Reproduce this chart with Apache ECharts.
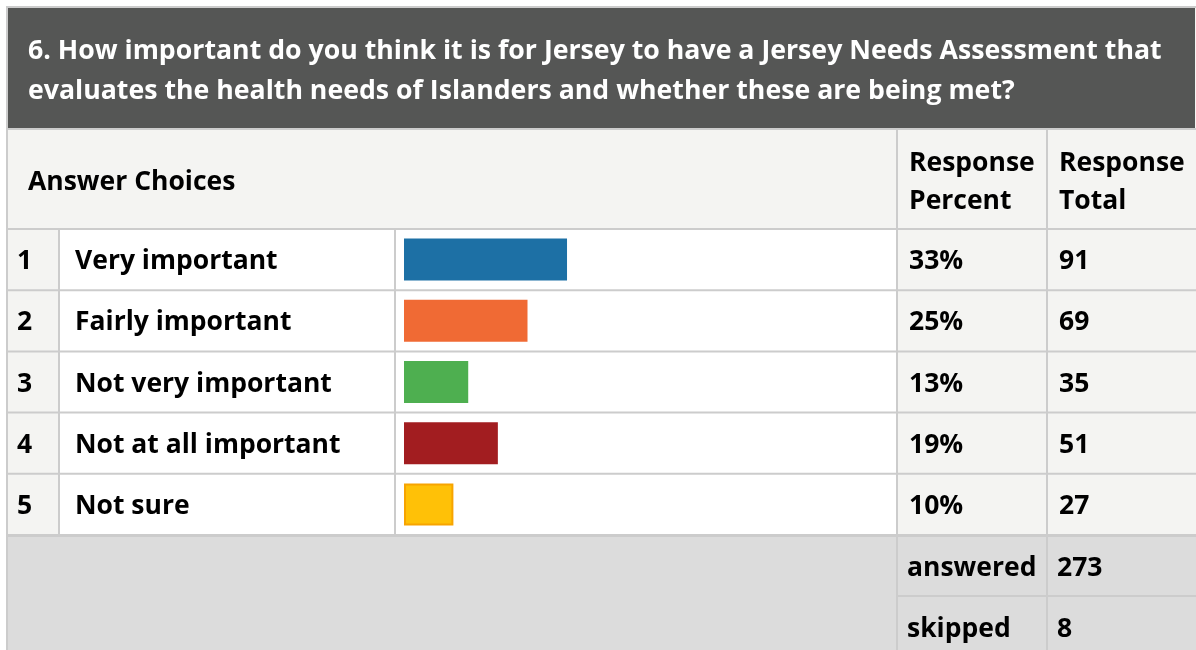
<!DOCTYPE html>
<html><head><meta charset="utf-8">
<script src="https://cdn.jsdelivr.net/npm/echarts@6/dist/echarts.min.js"></script>
<style>html,body{margin:0;padding:0;background:#fff}#c{width:1196px;height:650px}</style>
</head><body><div id="c"></div>
<script>
// ---- data ----
const titleLines = [
  "6. How important do you think it is for Jersey to have a Jersey Needs Assessment that",
  "evaluates the health needs of Islanders and whether these are being met?"
];
const headerLabels = ["Answer Choices", "Response\nPercent", "Response\nTotal"];
const rowNumbers = ["1", "2", "3", "4", "5"];
const categories = ["Very important", "Fairly important", "Not very important", "Not at all important", "Not sure"];
const percents = [33, 25, 13, 19, 10];
const totals = [91, 69, 35, 51, 27];
const footerLabels = ["answered", "skipped"];
const footerValues = [273, 8];
const palette = ["#1d70a5", "#f06a34", "#4eaf50", "#a21d20", "#ffc107"];

// ---- layout ----
const FONT = '"Open Sans", "Noto Sans", sans-serif';
const L = 7, R = 1196;
const xNum = 59, xLabel = 395, xBar = 897, xPct = 1047;
const titleTop = 8, titleBot = 128, headBot = 229;
const rowH = 61.2, nRows = categories.length;
const footTop = headBot + rowH * nRows; // 535
const footMid = footTop + 61;
const H = 650;
const LINE = '#cccccc';

const g = [];
function rect(x, y, w, h, fill, z) { g.push({type: 'rect', z: z || 0, shape: {x, y, width: w, height: h}, style: {fill}, silent: true}); }
function text(x, y, t, size, fill, z) {
  g.push({type: 'text', z: z || 5, x, y, style: {text: t, font: 'bold ' + size + 'px ' + FONT, fill: fill || '#000', align: 'left', verticalAlign: 'middle', lineHeight: 38}, silent: true});
}

// backgrounds
rect(L, titleTop, R - L, H - titleTop, '#f4f4f2');
rect(L + 1, titleTop, 1187, titleBot - titleTop, '#555655');
rect(L, headBot, R - L, footTop - headBot, '#f4f4f2');
rect(xNum, headBot, xBar - xNum, footTop - headBot, '#ffffff');
rect(L, footTop, R - L, H - footTop, '#dcdcdc');

// borders
rect(L, 6, R - L, 2, LINE, 1);
rect(L - 1, 6, 2, H, LINE, 1);
rect(L, titleBot, R - L, 2, LINE, 1);
rect(L, headBot - 1, R - L, 2, LINE, 1);
for (let i = 1; i < nRows; i++) rect(L, headBot + rowH * i - 1, R - L, 2, LINE, 1);
rect(L, footTop - 1, R - L, 3, LINE, 1);
rect(xBar, footMid - 1, R - xBar, 2, LINE, 1);
rect(xNum - 1, headBot, 2, footTop - headBot, LINE, 1);
rect(xLabel - 1, headBot, 2, footTop - headBot, LINE, 1);
rect(xBar - 1, titleBot, 2, H - titleBot, LINE, 1);
rect(xPct - 1, titleBot, 2, H - titleBot, LINE, 1);

// title
text(28, 51, titleLines[0], 26.7, '#ffffff');
text(28, 91, titleLines[1], 26.7, '#ffffff');

// header
text(28, 182, headerLabels[0], 26.5);
text(909, 182, headerLabels[1], 26.5);
text(1059, 182, headerLabels[2], 26.5);

// rows
for (let i = 0; i < nRows; i++) {
  const cy = headBot + rowH * i + rowH / 2 + 2;
  text(17, cy, rowNumbers[i], 26.5);
  text(75, cy, categories[i], 26.5);
  text(909, cy, percents[i] + '%', 26.5);
  text(1059, cy, String(totals[i]), 26.5);
}
// footer
for (let i = 0; i < footerLabels.length; i++) {
  const cy = footTop + 61 * i + 33;
  text(907, cy, footerLabels[i], 26.5);
  text(1057, cy, String(footerValues[i]), 26.5);
}

const chart = echarts.init(document.getElementById('c'));
chart.setOption({
  animation: false,
  graphic: {elements: g},
  grid: {left: 404, top: headBot, width: 494, height: rowH * nRows, containLabel: false},
  xAxis: {type: 'value', min: 0, max: 100, show: false},
  yAxis: {type: 'category', data: categories, inverse: true, show: false},
  series: [{
    type: 'bar',
    z: 10,
    barWidth: 42,
    data: percents.map((v, i) => ({
      value: v,
      itemStyle: i === 4 ? {color: palette[i], borderColor: '#f7a400', borderWidth: 2} : {color: palette[i]}
    }))
  }]
});
</script>
</body></html>
